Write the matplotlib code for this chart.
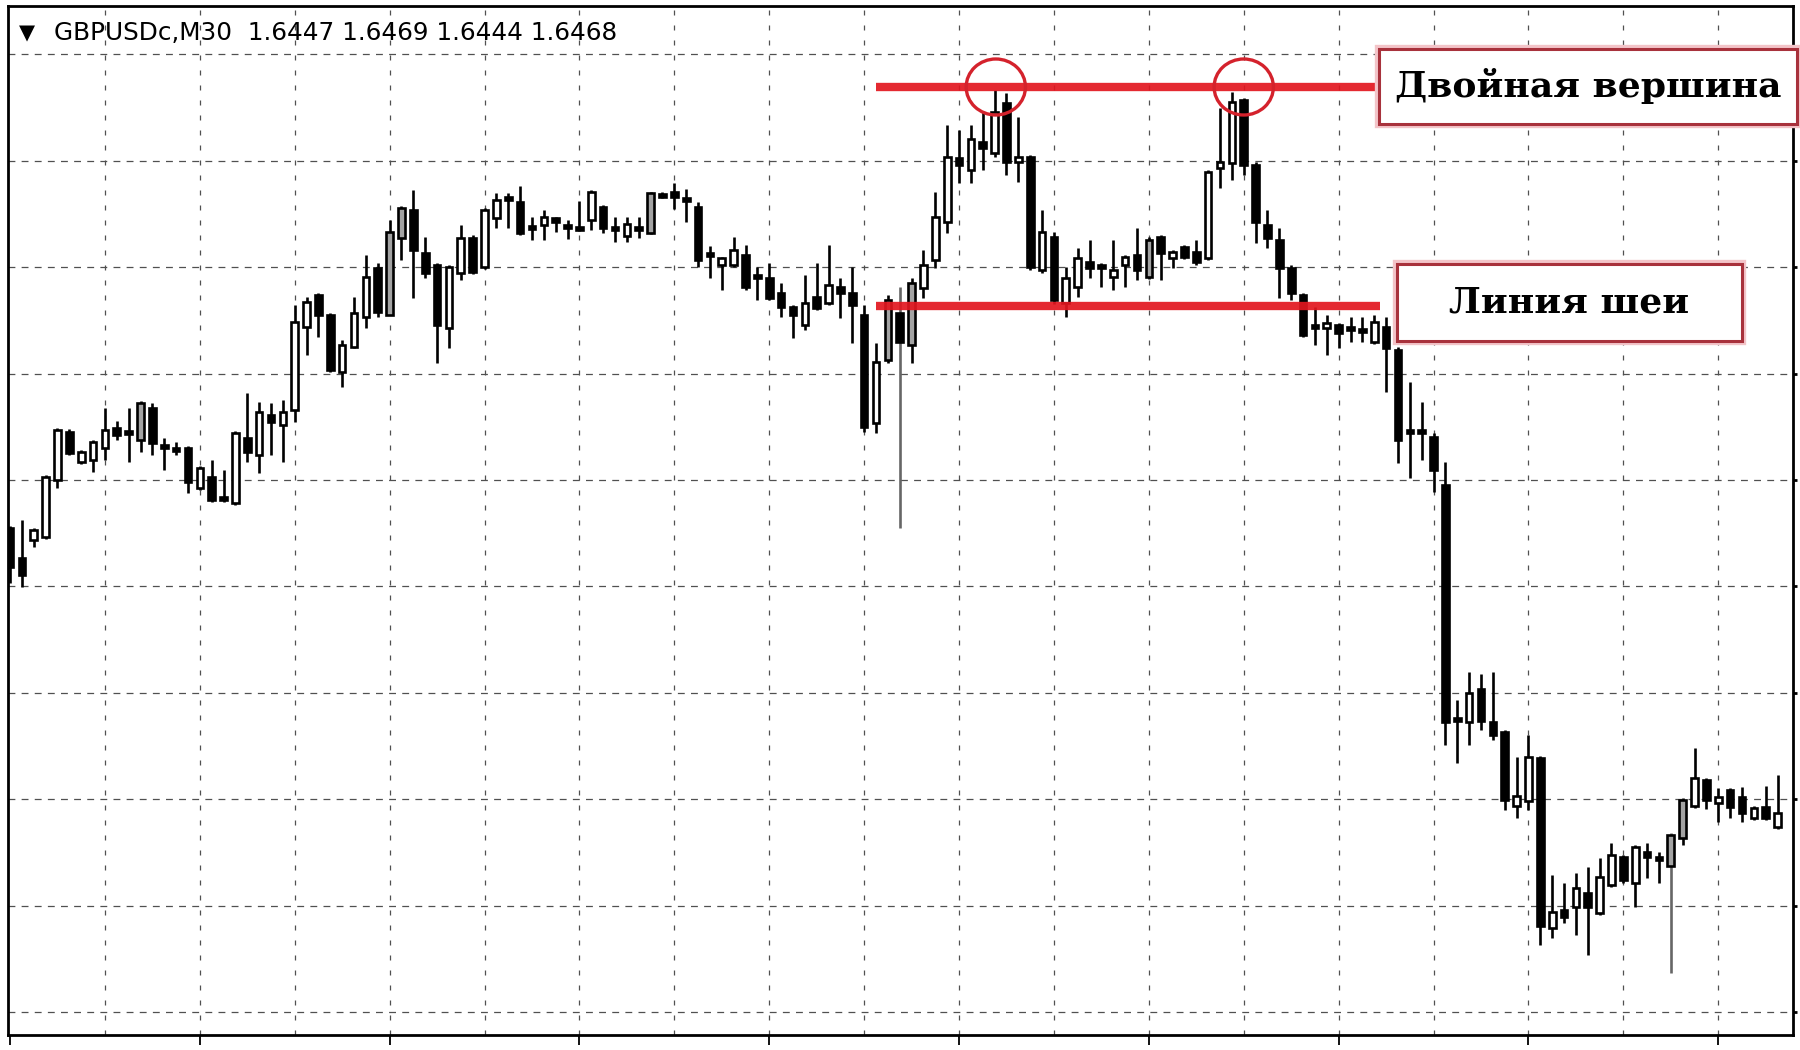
import numpy as np
import matplotlib.pyplot as plt
from matplotlib.patches import Rectangle, Ellipse

# candle readings, in chart points above the lowest grid line
# (one grid cell = 106.4 points = 0.0020 of price)
BASE = 1.6400
GRID_STEP = 0.0020
PTS_PER_GRID = 106.4

opens = [484, 454, 472, 475, 532, 580, 550, 552, 564, 584,
         579, 572, 604, 565, 563, 564, 524, 535, 513, 509,
         574, 557, 597, 587, 602, 685, 717, 697, 640, 665,
         695, 744, 697, 774, 802, 759, 747, 684, 739, 774,
         745, 794, 813, 810, 784, 787, 794, 785, 785, 792,
         805, 783, 776, 783, 779, 818, 820, 814, 805, 757,
         747, 747, 757, 735, 734, 719, 705, 687, 715, 709,
         725, 719, 697, 589, 652, 699, 667, 724, 752, 790,
         854, 842, 870, 859, 909, 850, 855, 742, 775, 709,
         725, 750, 745, 735, 747, 757, 735, 775, 754, 765,
         760, 754, 844, 849, 912, 847, 787, 772, 744, 717,
         685, 684, 687, 683, 681, 670, 685, 662, 580, 580,
         575, 527, 292, 290, 323, 290, 280, 206, 211, 254,
         84, 102, 105, 119, 99, 127, 155, 129, 160, 155,
         146, 174, 206, 232, 209, 222, 215, 194, 205, 185]
highs = [486, 492, 484, 537, 584, 583, 562, 572, 604, 591,
         604, 611, 609, 574, 570, 566, 546, 552, 542, 581,
         619, 610, 609, 612, 707, 715, 719, 699, 672, 715,
         757, 749, 792, 806, 822, 775, 749, 747, 787, 777,
         804, 819, 819, 826, 795, 802, 795, 792, 811, 822,
         807, 795, 795, 795, 820, 820, 829, 823, 810, 766,
         755, 775, 767, 745, 749, 729, 707, 737, 749, 767,
         734, 745, 707, 669, 717, 725, 734, 762, 820, 887,
         882, 887, 900, 922, 919, 895, 857, 802, 780, 745,
         764, 772, 749, 772, 757, 784, 775, 777, 762, 767,
         772, 842, 904, 920, 914, 850, 802, 784, 747, 719,
         705, 697, 689, 695, 695, 697, 695, 665, 630, 610,
         579, 550, 312, 340, 338, 340, 282, 255, 277, 256,
         137, 129, 139, 145, 154, 169, 157, 167, 169, 160,
         179, 214, 264, 234, 224, 224, 225, 206, 226, 237]
lows = [429, 425, 465, 473, 524, 557, 548, 540, 552, 572,
        550, 560, 557, 542, 557, 519, 522, 510, 510, 507,
        550, 539, 557, 550, 590, 657, 675, 640, 625, 664,
        684, 695, 697, 752, 714, 734, 649, 664, 732, 738,
        743, 784, 784, 777, 772, 772, 780, 773, 781, 782,
        779, 770, 770, 774, 778, 814, 803, 790, 745, 734,
        722, 745, 722, 712, 712, 695, 674, 682, 702, 707,
        694, 669, 580, 579, 649, 484, 649, 714, 744, 779,
        829, 829, 842, 855, 837, 830, 742, 739, 708, 695,
        715, 734, 725, 722, 725, 732, 733, 732, 744, 753,
        747, 752, 824, 832, 837, 769, 764, 714, 712, 675,
        667, 657, 664, 670, 670, 668, 620, 549, 534, 552,
        520, 267, 249, 267, 282, 272, 202, 194, 202, 67,
        74, 89, 77, 57, 97, 125, 129, 105, 134, 129,
        39, 167, 204, 203, 190, 194, 190, 192, 192, 183]
closes = [445, 437, 482, 535, 582, 559, 560, 570, 582, 577,
          578, 609, 569, 564, 561, 530, 544, 512, 512, 579,
          560, 600, 590, 600, 690, 710, 697, 642, 667, 699,
          735, 700, 780, 804, 762, 739, 687, 745, 774, 740,
          802, 812, 812, 779, 783, 795, 790, 784, 782, 820,
          784, 782, 788, 782, 819, 815, 815, 811, 752, 756,
          754, 762, 725, 734, 714, 705, 697, 709, 704, 727,
          719, 707, 585, 650, 712, 670, 729, 747, 795, 855,
          847, 873, 864, 900, 850, 855, 745, 780, 712, 734,
          754, 744, 744, 742, 755, 742, 772, 759, 760, 755,
          750, 840, 850, 910, 847, 790, 774, 744, 719, 677,
          684, 689, 679, 682, 680, 690, 664, 572, 579, 579,
          542, 290, 291, 319, 291, 277, 212, 216, 255, 86,
          100, 95, 124, 105, 135, 157, 132, 165, 155, 152,
          177, 212, 234, 212, 215, 205, 199, 204, 194, 199]
gray_bodies = [11, 32, 33, 54, 74, 76, 96, 140, 141]
gray_wicks = [75, 140]

top_level = 925     # double top resistance
neck_level = 706    # neckline
top_bars = [83.1, 104.0]
line_from, top_line_to, neck_line_to = 73.0, 115.5, 115.5

header = 'GBPUSDc,M30  1.6447 1.6469 1.6444 1.6468'
label_top = 'Двойная вершина'
label_neck = 'Линия шеи'


def to_price(p):
    return BASE + np.asarray(p, dtype=float) * GRID_STEP / PTS_PER_GRID


o, h, l, c = to_price(opens), to_price(highs), to_price(lows), to_price(closes)
n = len(o)
x = np.arange(n)

fig = plt.figure(figsize=(18, 10.5), dpi=100)
ax = fig.add_axes([8 / 1800, 15 / 1050, 1785 / 1800, 1029 / 1050])

# grid
grid_y = to_price(np.arange(10) * PTS_PER_GRID)
for gy in grid_y:
    ax.axhline(gy, color='#505050', lw=0.9, ls=(0, (5.5, 5)), zorder=0)
for gx in range(8, n, 8):
    ax.axvline(gx, color='#505050', lw=0.9, ls=(0, (4, 8)), zorder=0)

# candles
wick_col = ['#666666' if i in gray_wicks else 'black' for i in range(n)]
ax.vlines(x, l, h, colors=wick_col, lw=1.9, zorder=2)
body_col = []
for i in range(n):
    if i in gray_bodies:
        body_col.append('#a3a3a3')
    elif c[i] > o[i]:
        body_col.append('white')
    else:
        body_col.append('black')
min_h = to_price(3) - BASE
ax.bar(x, np.maximum(np.abs(c - o), min_h), bottom=np.minimum(o, c),
       width=0.56, color=body_col, edgecolor='black', lw=1.9, zorder=3)

# pattern marks
ax.hlines(to_price(top_level), line_from, top_line_to, color='#e2161f', lw=6, zorder=4, alpha=0.92)
ax.hlines(to_price(neck_level), line_from, neck_line_to, color='#e2161f', lw=6, zorder=4, alpha=0.92)
for tb in top_bars:
    ax.add_patch(Ellipse((tb, to_price(top_level)), width=5.0, height=to_price(56) - BASE,
                         fill=False, edgecolor='#d4222c', lw=2.4, zorder=5))

ax.set_xlim(-0.17, 150.3)
ax.set_ylim(to_price(-23), to_price(1006))
ax.set_xticks(np.arange(0, n, 16))
ax.yaxis.tick_right()
ax.set_yticks(grid_y)
ax.tick_params(axis='x', length=7, width=1.3, labelbottom=False, direction='out')
ax.tick_params(axis='y', length=3, width=2, labelright=False, direction='out')
for s in ax.spines.values():
    s.set_linewidth(2)

# header
fig.text(19 / 1800, 1 - 39 / 1050, '▼', fontsize=15, family='DejaVu Sans', va='baseline')
fig.text(54 / 1800, 1 - 40 / 1050, header, fontsize=17.8, family='DejaVu Sans', va='baseline')

# label boxes
for (x0, y0, x1, y1), txt in [((1379, 49, 1797, 124), label_top),
                              ((1397, 264, 1742, 341), label_neck)]:
    fig.add_artist(Rectangle((x0 / 1800, 1 - y1 / 1050), (x1 - x0) / 1800, (y1 - y0) / 1050,
                             transform=fig.transFigure, facecolor='none',
                             edgecolor='#f3c4c8', lw=6))
    fig.add_artist(Rectangle((x0 / 1800, 1 - y1 / 1050), (x1 - x0) / 1800, (y1 - y0) / 1050,
                             transform=fig.transFigure, facecolor='white',
                             edgecolor='#a8323c', lw=2.2))
    fig.text((x0 + x1) / 2 / 1800, 1 - (y0 + y1) / 2 / 1050, txt, fontsize=26,
             family='DejaVu Serif', weight='heavy', ha='center', va='center')

fig.savefig('out.png', dpi=100)
